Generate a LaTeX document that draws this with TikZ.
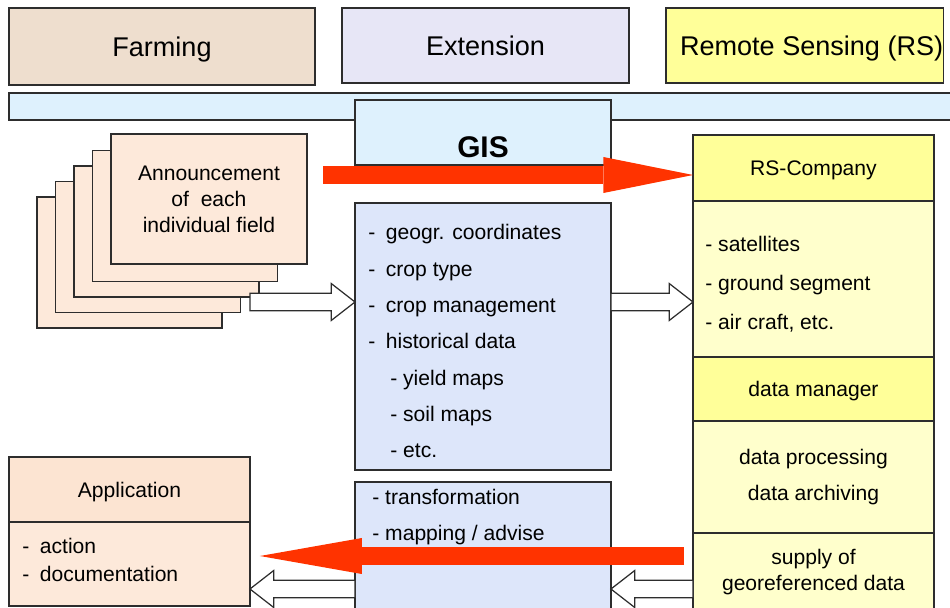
\documentclass[tikz,border=0pt]{standalone}
\usepackage{fontspec}
\setmainfont{Liberation Sans}
\usepackage{tikz}
\usetikzlibrary{positioning,arrows.meta,calc}
\usepackage{xcolor}

\definecolor{farmtan}{RGB}{238,222,206}
\definecolor{extlilac}{RGB}{231,230,246}
\definecolor{rsyellow}{RGB}{255,255,153}
\definecolor{rspale}{RGB}{255,255,204}
\definecolor{gissky}{RGB}{222,241,253}
\definecolor{gisblue}{RGB}{221,230,250}
\definecolor{peach}{RGB}{253,233,218}
\definecolor{peachdark}{RGB}{252,228,210}
\definecolor{flowred}{RGB}{255,51,0}
\definecolor{edge}{RGB}{45,45,45}

\newcommand{\headsize}{\fontsize{15.4pt}{18pt}\selectfont}
\newcommand{\bodysize}[1]{\fontsize{12pt}{#1}\selectfont}

% white block arrow between two points at the same height
\newcommand{\hollowarrow}[2]{%
  \draw[hollow] let \p1=(#1), \p2=(#2), \n1={13.5pt*sign(\x2-\x1)} in
    (\x1,{\y1+5pt}) -- ({\x2-(\n1)},{\y1+5pt}) -- ({\x2-(\n1)},{\y1+10.5pt}) -- (\x2,\y1)
    -- ({\x2-(\n1)},{\y1-10.5pt}) -- ({\x2-(\n1)},{\y1-5pt}) -- (\x1,{\y1-5pt}) -- cycle;}

\begin{document}
\begin{tikzpicture}[x=0.02cm,y=-0.02cm,node distance=0pt,
  box/.style={draw=edge,line width=0.7pt,inner sep=0pt,outer sep=0pt,anchor=north west},
  head/.style={box,font=\headsize,text height=11pt,text depth=0pt},
  titlebox/.style={box,font=\bodysize{14pt},text depth=0pt},
  itemlist/.style={align=left,font=\bodysize{#1},anchor=north west,inner sep=0pt},
  bigflow/.style={draw=flowred,line width=10.2pt,-{Triangle[length=#1,width=20.5pt,line width=0pt]}},
  hollow/.style={draw=edge,fill=white,line width=0.7pt}]
\useasboundingbox (0,0) rectangle (950,608);
\clip (0,0) rectangle (950,608);

\node[head,fill=farmtan,minimum width=6.12cm,minimum height=1.54cm] (farming) at (9,8) {Farming};
\node[head,fill=extlilac,minimum width=5.74cm,minimum height=1.5cm] (extension) at (342,8) {Extension};
\node[head,fill=rsyellow,minimum width=5.52cm,minimum height=1.5cm] (remote) at (666,8) {\hspace*{8pt}Remote Sensing (RS)};
\node[box,fill=gissky,minimum width=19.2cm,minimum height=0.54cm] (band) at (9,93) {};

% GIS column
\node[box,fill=gissky,minimum width=5.12cm,minimum height=1.3cm] (gis) at (355,100) {};
\node[font=\bfseries\fontsize{17pt}{20pt}\selectfont] (gistitle) at ([yshift=-8.5pt]gis.center) {GIS};
\node[box,fill=gisblue,minimum width=5.12cm,minimum height=5.34cm] (gislist) at (355,203) {};
\node[itemlist=20.7pt] (gislisttext) at ($(gislist.north west)+(13,21)$)
  {-\hspace{6pt}geogr. coordinates\\-\hspace{6pt}crop type\\-\hspace{6pt}crop management\\-\hspace{6pt}historical data\\
   \hspace*{12.5pt}- yield maps\\\hspace*{12.5pt}- soil maps\\\hspace*{12.5pt}- etc.};
\node[box,fill=gisblue,minimum width=5.12cm,minimum height=2.8cm] (gislow) at (355,482) {};
\node[itemlist=20.5pt] (gislowtext) at ($(gislow.north west)+(17,7)$)
  {- transformation\\- mapping / advise};

% stack of field announcements
\foreach \i in {0,...,3}
  \node[box,fill=peach,minimum width=3.7cm,minimum height=2.62cm] (page\i) at (37+18.5*\i,197-15.5*\i) {};
\node[box,fill=peach,minimum width=3.92cm,minimum height=2.6cm,align=center,font=\bodysize{14.8pt}] (announce) at (111,134)
  {Announcement\\of\ \ each\\individual field};

% RS column
\node[titlebox,fill=rsyellow,minimum width=4.82cm,minimum height=1.32cm] (rshead) at (693,135) {RS-Company};
\node[box,fill=rspale,minimum width=4.82cm,minimum height=3.12cm,below=of rshead] (rsbody) {};
\node[itemlist=22.2pt] (rsbodytext) at ($(rsbody.north west)+(12,35)$)
  {- satellites\\- ground segment\\- air craft, etc.};
\node[titlebox,fill=rsyellow,minimum width=4.82cm,minimum height=1.28cm,below=of rsbody] (rsmanager) {data manager};
\node[box,fill=rspale,minimum width=4.82cm,minimum height=2.24cm,align=center,font=\bodysize{20.5pt},below=of rsmanager] (rsarchive)
  {data processing\\data archiving};
\node[box,fill=rspale,minimum width=4.82cm,minimum height=1.56cm,align=center,font=\bodysize{14.8pt},below=of rsarchive] (rssupply)
  {supply of\\georeferenced data};

% application
\node[titlebox,fill=peachdark,minimum width=4.82cm,minimum height=1.3cm] (apphead) at (9,457) {Application};
\node[box,fill=peach,minimum width=4.82cm,minimum height=1.68cm,below=of apphead] (appbody) {};
\node[itemlist=16pt] (appbodytext) at ($(appbody.north west)+(13,16)$)
  {-\hspace{6pt}action\\-\hspace{6pt}documentation};

% arrows
\coordinate (fieldout) at (250,302);
\coordinate (fieldred) at (323,175);
\coordinate (datared) at (684,556);
\coordinate (databack) at (0,589);
\hollowarrow{fieldout}{gislist.west |- fieldout}
\hollowarrow{gislist.east |- fieldout}{rsbody.west |- fieldout}
\hollowarrow{rssupply.west |- databack}{gislow.east |- databack}
\hollowarrow{gislow.west |- databack}{appbody.east |- databack}
\draw[bigflow=51pt] (fieldred) -- (rshead.west |- fieldred);
\draw[bigflow=58pt] (datared) -- ($(appbody.east |- datared)+(10,0)$);
\end{tikzpicture}
\end{document}
